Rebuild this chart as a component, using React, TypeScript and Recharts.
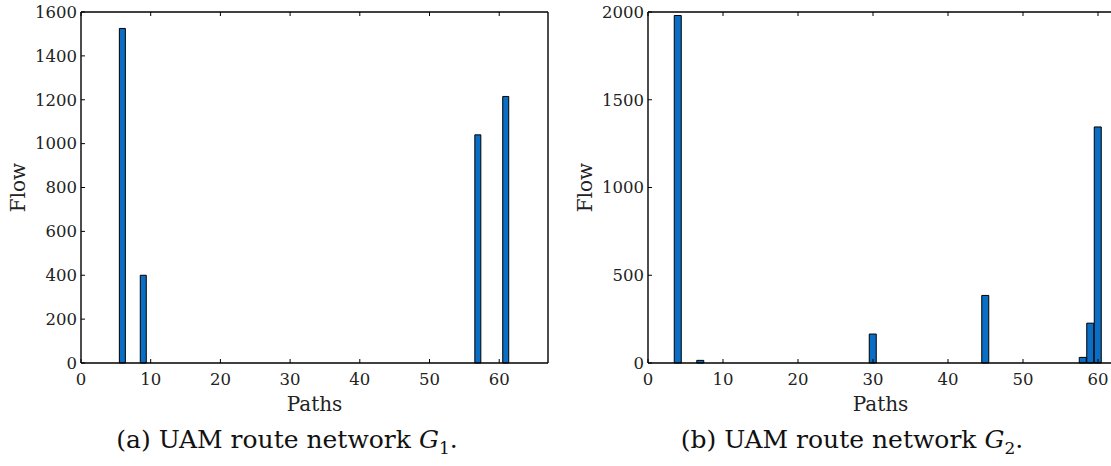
import { BarChart, Bar, XAxis, YAxis } from "recharts";

// Path indices with non-zero flow
const pathsG1 = [6, 9, 57, 61];
const flowG1 = [1525, 400, 1040, 1215];

const pathsG2 = [4, 7, 30, 45, 58, 59, 60];
const flowG2 = [1980, 15, 165, 385, 32, 227, 1345];

const xTicks = [0, 10, 20, 30, 40, 50, 60];
const yTicksG1 = [0, 200, 400, 600, 800, 1000, 1200, 1400, 1600];
const yTicksG2 = [0, 500, 1000, 1500, 2000];

const FONT = "'DejaVu Serif', serif";
const BAR_COLOR = "#0a6ec4";
const INK = "#222";
const TICK_LEN = 4;

// inward (matlab style) ticks: recharts only draws them outward, so draw by hand
const BottomTick = (p: any) => (
  <g>
    <line x1={p.x} x2={p.x} y1={p.y} y2={p.y - TICK_LEN} stroke="#000" />
    <text
      x={p.x}
      y={p.y + 10}
      dy="0.71em"
      textAnchor="middle"
      fontSize={16.5}
      fontFamily={FONT}
      fill={INK}
    >
      {p.payload.value}
    </text>
  </g>
);

const LeftTick = (p: any) => (
  <g>
    <line x1={p.x} x2={p.x + TICK_LEN} y1={p.y} y2={p.y} stroke="#000" />
    <text
      x={p.x - 4}
      y={p.y}
      dy="0.355em"
      textAnchor="end"
      fontSize={16.5}
      fontFamily={FONT}
      fill={INK}
    >
      {p.payload.value}
    </text>
  </g>
);

const TopTick = (p: any) => (
  <line x1={p.x} x2={p.x} y1={p.y} y2={p.y + TICK_LEN} stroke="#000" />
);

const RightTick = (p: any) => (
  <line x1={p.x} x2={p.x - TICK_LEN} y1={p.y} y2={p.y} stroke="#000" />
);

interface PanelProps {
  paths: number[];
  flow: number[];
  xMax: number;
  yMax: number;
  yTicks: number[];
  barSize: number;
  width: number;
  left: number;
}

function FlowPanel({ paths, flow, xMax, yMax, yTicks, barSize, width, left }: PanelProps) {
  const data = paths.map((p, i) => ({ path: p, flow: flow[i] }));
  const axisLine = { stroke: "#000", strokeWidth: 1.4 };

  return (
    <div style={{ position: "absolute", left, top: 0 }}>
      <BarChart
        width={width}
        height={420}
        data={data}
        margin={{ top: 10, right: 10, bottom: 7, left: 0 }}
      >
        <XAxis
          xAxisId="bottom"
          dataKey="path"
          type="number"
          domain={[0, xMax]}
          ticks={xTicks}
          allowDataOverflow
          height={50}
          tickSize={0}
          tickMargin={0}
          tickLine={false}
          tick={BottomTick}
          axisLine={axisLine}
          label={{
            value: "Paths",
            position: "insideBottom",
            offset: 2,
            style: { fontSize: 20, fontFamily: FONT, fill: INK },
          }}
        />
        <XAxis
          xAxisId="top"
          orientation="top"
          dataKey="path"
          type="number"
          domain={[0, xMax]}
          ticks={xTicks}
          allowDataOverflow
          height={2}
          tickSize={0}
          tickMargin={0}
          tickLine={false}
          tick={TopTick}
          axisLine={axisLine}
        />
        <YAxis
          yAxisId="left"
          type="number"
          domain={[0, yMax]}
          ticks={yTicks}
          width={81}
          tickSize={0}
          tickMargin={0}
          tickLine={false}
          tick={LeftTick}
          axisLine={axisLine}
          label={{
            value: "Flow",
            angle: -90,
            position: "insideLeft",
            offset: 18,
            style: { fontSize: 20, fontFamily: FONT, fill: INK, textAnchor: "middle" },
          }}
        />
        <YAxis
          yAxisId="right"
          orientation="right"
          type="number"
          domain={[0, yMax]}
          ticks={yTicks}
          width={2}
          tickSize={0}
          tickMargin={0}
          tickLine={false}
          tick={RightTick}
          axisLine={axisLine}
        />
        <Bar
          xAxisId="bottom"
          yAxisId="left"
          dataKey="flow"
          barSize={barSize}
          fill={BAR_COLOR}
          stroke="#000"
          strokeWidth={1}
          isAnimationActive={false}
        />
      </BarChart>
    </div>
  );
}

const captionStyle = {
  position: "absolute" as const,
  top: 425,
  fontFamily: FONT,
  fontSize: 25,
  color: "#111",
  textAlign: "center" as const,
  width: 440,
  lineHeight: "30px",
};

export default function App() {
  return (
    <div
      style={{
        position: "absolute",
        left: 0,
        top: 0,
        width: 1111,
        height: 466,
        overflow: "hidden",
        background: "#fff",
      }}
    >
      <FlowPanel
        paths={pathsG1}
        flow={flowG1}
        xMax={67}
        yMax={1600}
        yTicks={yTicksG1}
        barSize={6}
        width={560}
        left={0}
      />
      <FlowPanel
        paths={pathsG2}
        flow={flowG2}
        xMax={62}
        yMax={2000}
        yTicks={yTicksG2}
        barSize={7}
        width={558}
        left={567}
      />
      <div style={{ ...captionStyle, left: 67 }}>
        (a) UAM route network <i>G</i>
        <sub style={{ fontSize: 17, lineHeight: 0 }}>1</sub>.
      </div>
      <div style={{ ...captionStyle, left: 632 }}>
        (b) UAM route network <i>G</i>
        <sub style={{ fontSize: 17, lineHeight: 0 }}>2</sub>.
      </div>
    </div>
  );
}
